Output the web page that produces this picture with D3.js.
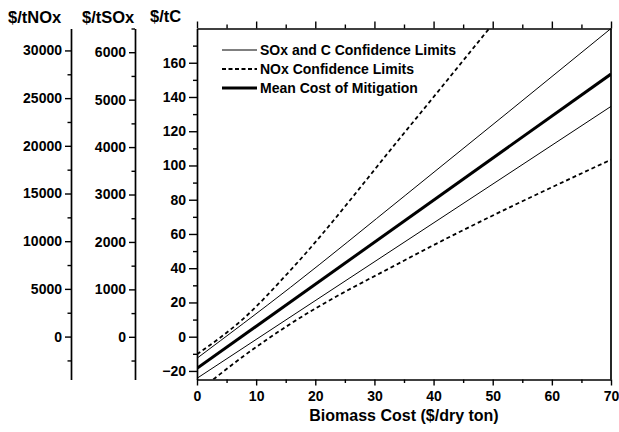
<!DOCTYPE html>
<html>
<head>
<meta charset="utf-8">
<script src="https://cdn.jsdelivr.net/npm/d3@7"></script>
<style>
  html, body { margin: 0; padding: 0; background: #fff; }
  svg text { font-family: Arial, "Liberation Sans", Helvetica, sans-serif; font-weight: bold; fill: #000; }
</style>
</head>
<body>
<svg id="chart" width="619" height="432"></svg>
<script>
// ---------- data ----------
const xDomain = [0, 70];
const cDomain = [-25, 180];
const noxDomain = [-4500, 32300];
const soxDomain = [-900, 6500];

const xMajor = [0, 10, 20, 30, 40, 50, 60, 70];
const xMinor = [5, 15, 25, 35, 45, 55, 65];
const cMajor = [-20, 0, 20, 40, 60, 80, 100, 120, 140, 160];
const cMinor = [-10, 10, 30, 50, 70, 90, 110, 130, 150, 170];
const noxMajor = [0, 5000, 10000, 15000, 20000, 25000, 30000];
const noxMinor = [-2500, 2500, 7500, 12500, 17500, 22500, 27500];
const soxMajor = [0, 1000, 2000, 3000, 4000, 5000, 6000];
const soxMinor = [-500, 500, 1500, 2500, 3500, 4500, 5500, 6500];

const axisTitles = ["$/tNOx", "$/tSOx", "$/tC"];
const xTitle = "Biomass Cost ($/dry ton)";
const legendLabels = ["SOx and C Confidence Limits", "NOx Confidence Limits", "Mean Cost of Mitigation"];

// series (biomass cost, $/tC)
const meanX = [0, 70];
const meanY = [-18.5, 153.4];
const soxUpperX = [0, 15.8, 35.2, 70];
const soxUpperY = [-12.6, 28.8, 82.5, 180];
const soxLowerX = [0, 70];
const soxLowerY = [-24.3, 134.5];
const noxUpperX = [0, 8, 15.8, 35.2, 49.4];
const noxUpperY = [-10.3, 11, 38.8, 119.7, 180];
const noxLowerX = [2.75, 8, 15.8, 35.2, 70];
const noxLowerY = [-25, -11, 7.5, 44.8, 103.4];

// ---------- layout ----------
const svg = d3.select("#chart");
const L = 197, R = 611, T = 28.5, B = 379.5;
const noxX = 71, soxX = 135;

const x = d3.scaleLinear().domain(xDomain).range([L, R]);
const y = d3.scaleLinear().domain(cDomain).range([B, T]);
const yNox = d3.scaleLinear().domain(noxDomain).range([B, T]);
const ySox = d3.scaleLinear().domain(soxDomain).range([B, T]);

const fmt = d3.format("d");

function styleAxis(g) {
  g.selectAll(".domain").attr("stroke", "#000").attr("stroke-width", 1.7);
  g.selectAll(".tick line").attr("stroke", "#000").attr("stroke-width", 1.4);
  g.selectAll("text").attr("font-size", 14).attr("font-family", null).attr("fill", "#000");
}

// secondary axes
function sideAxis(scale, xpos, major, minor) {
  const g = svg.append("g").attr("transform", `translate(${xpos},0)`);
  g.call(d3.axisLeft(scale).tickValues(major).tickFormat(fmt).tickSize(6).tickPadding(3).tickSizeOuter(0));
  g.append("g").call(d3.axisLeft(scale).tickValues(minor).tickFormat("").tickSize(3.5).tickSizeOuter(0))
    .select(".domain").remove();
  styleAxis(g);
}
sideAxis(yNox, noxX, noxMajor, noxMinor);
sideAxis(ySox, soxX, soxMajor, soxMinor);

// main left axis
const gl = svg.append("g").attr("transform", `translate(${L},0)`);
gl.call(d3.axisLeft(y).tickValues(cMajor).tickFormat(fmt).tickSize(8).tickPadding(3).tickSizeOuter(0));
gl.append("g").call(d3.axisLeft(y).tickValues(cMinor).tickFormat("").tickSize(4).tickSizeOuter(0))
  .select(".domain").remove();
styleAxis(gl);

// bottom axis
const gb = svg.append("g").attr("transform", `translate(0,${B})`);
gb.call(d3.axisBottom(x).tickValues(xMajor).tickFormat(fmt).tickSize(6).tickPadding(6).tickSizeOuter(0));
gb.append("g").call(d3.axisBottom(x).tickValues(xMinor).tickFormat("").tickSize(3.5).tickSizeOuter(0))
  .select(".domain").remove();
styleAxis(gb);

// top axis (mirror, no labels)
const gt = svg.append("g").attr("transform", `translate(0,${T})`);
gt.call(d3.axisTop(x).tickValues(xMajor).tickFormat("").tickSize(7).tickSizeOuter(0));
gt.append("g").call(d3.axisTop(x).tickValues(xMinor).tickFormat("").tickSize(4).tickSizeOuter(0))
  .select(".domain").remove();
styleAxis(gt);

// right border
svg.append("line").attr("x1", R).attr("x2", R).attr("y1", T).attr("y2", B)
  .attr("stroke", "#000").attr("stroke-width", 1.7);

// axis titles
svg.append("text").attr("x", 8).attr("y", 23).attr("font-size", 16.5).text(axisTitles[0]);
svg.append("text").attr("x", 82).attr("y", 23).attr("font-size", 16.5).text(axisTitles[1]);
svg.append("text").attr("x", 150).attr("y", 22).attr("font-size", 16.5).text(axisTitles[2]);
svg.append("text").attr("x", (L + R) / 2).attr("y", 421).attr("text-anchor", "middle")
  .attr("font-size", 16).text(xTitle);

// clip
svg.append("clipPath").attr("id", "plotclip").append("rect")
  .attr("x", L).attr("y", T).attr("width", R - L).attr("height", B - T);

const lineGen = d3.line().x(d => x(d[0])).y(d => y(d[1])).curve(d3.curveMonotoneX);
const plot = svg.append("g").attr("clip-path", "url(#plotclip)");

const series = [
  { xs: noxUpperX, ys: noxUpperY, w: 1.8, dash: "4,3" },
  { xs: noxLowerX, ys: noxLowerY, w: 1.8, dash: "4,3" },
  { xs: soxUpperX, ys: soxUpperY, w: 1, dash: null },
  { xs: soxLowerX, ys: soxLowerY, w: 1, dash: null },
  { xs: meanX, ys: meanY, w: 3, dash: null }
];
series.forEach(s => {
  plot.append("path")
    .datum(s.xs.map((v, i) => [v, s.ys[i]]))
    .attr("d", lineGen)
    .attr("fill", "none")
    .attr("stroke", "#000")
    .attr("stroke-width", s.w)
    .attr("stroke-dasharray", s.dash);
});

// legend
const legendStyles = [
  { w: 1, dash: null },
  { w: 1.8, dash: "4,2.5" },
  { w: 3, dash: null }
];
const legendRows = [50, 69, 88];
legendLabels.forEach((lab, i) => {
  svg.append("line").attr("x1", 222).attr("x2", 257)
    .attr("y1", legendRows[i]).attr("y2", legendRows[i])
    .attr("stroke", "#000").attr("stroke-width", legendStyles[i].w)
    .attr("stroke-dasharray", legendStyles[i].dash);
  svg.append("text").attr("x", 260).attr("y", legendRows[i]).attr("dy", "0.36em")
    .attr("font-size", 14).text(lab);
});
</script>
</body>
</html>
